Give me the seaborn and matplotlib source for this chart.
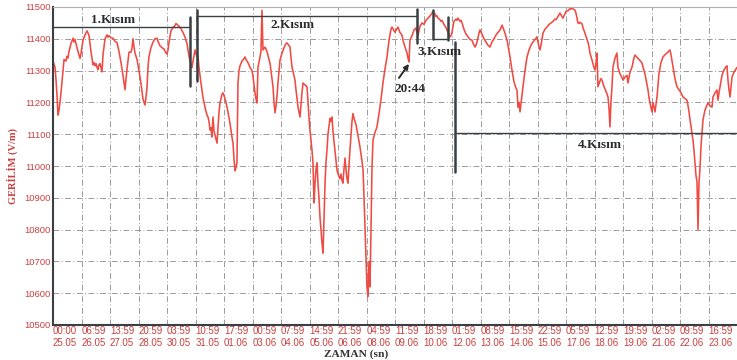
import matplotlib
matplotlib.use("Agg")
import matplotlib.pyplot as plt
import seaborn as sns
import pandas as pd

# Elapsed time since 25.05 00:00 (hours) and the measured field (V/m)
saat = [
    0, 2.2, 3.3, 4.4, 5.4, 6.5, 7.6, 8.7, 9.8, 10.9, 12.0, 14.1, 15.2, 16.3, 17.4, 19.6, 21.8, 22.8, 23.9, 26.1,
    28.3, 29.4, 30.5, 32.6, 34.8, 37.0, 38.1, 39.2, 41.3, 43.5, 44.6, 45.7, 46.8, 47.9, 48.9, 50.0, 51.1, 53.3,
    54.4, 56.6, 58.7, 59.8, 60.9, 63.1, 65.3, 67.4, 69.6, 71.8, 74.0, 76.1, 78.3, 80.5, 82.7, 84.8, 85.9, 87.0,
    88.1, 89.2, 91.4, 93.5, 95.7, 97.9, 100.1, 101.1, 102.2, 103.3, 104.4, 106.6, 108.8, 110.9, 113.1, 114.2,
    116.4, 118.5, 120.7, 123.0, 124.0, 125.1, 126.2, 128.3, 130.5, 132.7, 133.8, 134.9, 137.0, 139.2, 141.4,
    143.6, 145.8, 147.9, 150.1, 151.2, 152.3, 154.5, 155.5, 157.7, 158.8, 161.0, 163.2, 165.3, 167.5, 168.6,
    169.7, 170.8, 171.9, 172.9, 174.0, 175.1, 177.3, 178.4, 179.5, 180.6, 181.6, 183.8, 184.9, 186.0, 188.2,
    190.3, 192.5, 194.7, 195.8, 196.9, 198.0, 199.0, 200.1, 201.2, 202.3, 203.4, 205.6, 207.8, 208.8, 209.9,
    212.1, 214.3, 216.5, 217.6, 218.6, 219.7, 220.8, 221.9, 223.0, 225.2, 226.2, 227.3, 228.4, 230.6, 232.8,
    234.9, 236.0, 237.1, 239.3, 240.4, 241.5, 242.6, 243.6, 244.7, 246.9, 249.1, 251.3, 253.4, 254.5, 255.6,
    257.8, 258.9, 260.0, 262.1, 263.2, 264.3, 266.5, 267.6, 268.7, 269.7, 270.8, 271.9, 274.1, 276.3, 277.4,
    278.5, 279.5, 280.6, 281.7, 282.8, 283.9, 285.0, 286.1, 287.2, 288.2, 289.3, 290.4, 291.5, 292.6, 293.7,
    294.8, 295.9, 296.9, 298.0, 299.1, 301.3, 302.4, 303.5, 304.5, 305.6, 307.8, 308.9, 310.0, 312.2, 313.2,
    314.3, 315.4, 316.5, 317.6, 318.7, 319.8, 320.9, 321.9, 323.0, 325.2, 326.3, 327.4, 329.6, 331.7, 333.9,
    336.1, 337.2, 338.3, 339.4, 340.5, 341.5, 342.6, 343.7, 344.8, 345.9, 347.0, 348.1, 350.2, 352.4, 354.6,
    356.8, 358.9, 361.1, 363.3, 365.5, 367.6, 368.7, 370.9, 372.0, 374.2, 375.2, 377.4, 379.6, 380.7, 382.9,
    385.1, 386.1, 387.2, 388.3, 390.5, 392.7, 394.8, 395.9, 397.0, 399.2, 401.4, 403.5, 405.7, 407.9, 410.1,
    412.2, 413.3, 415.5, 416.6, 417.7, 418.8, 420.9, 422.0, 423.1, 425.3, 427.5, 429.6, 431.8, 432.9, 434.0,
    435.1, 436.2, 438.3, 439.4, 440.5, 442.7, 443.8, 444.9, 447.0, 449.2, 451.4, 453.6, 455.7, 456.8, 459.0,
    460.1, 461.2, 463.4, 464.4, 466.6, 468.8, 471.0, 473.1, 475.3, 477.5, 479.7, 481.9, 484.0, 486.2, 487.3,
    488.4, 489.5, 491.6, 493.8, 494.9, 497.1, 499.3, 501.4, 503.6, 504.7, 505.8, 506.9, 508.0, 509.0, 510.1,
    511.2, 513.4, 515.6, 517.8, 519.9, 522.1, 524.3, 526.5, 527.5, 528.6, 529.7, 530.8, 531.9, 533.0, 535.1,
    537.3, 539.5, 541.7, 543.9, 546.0, 547.1, 548.2, 550.4, 551.5, 552.6, 554.7, 555.8, 558.0, 560.2, 561.3,
    562.3, 563.4, 564.5, 566.7, 567.8, 568.9, 570.0, 571.0, 572.1, 573.2, 575.4, 576.5, 578.6, 580.8, 581.9,
    583.0, 584.1, 586.3, 588.4, 589.5, 590.6, 591.7, 592.8, 595.0, 596.1, 597.1, 599.3, 601.5, 603.7, 604.8,
    605.8, 606.9, 608.0, 609.1, 611.3, 613.4, 614.5, 616.7, 618.9, 620.0, 622.2, 624.3, 625.4, 627.6, 629.8,
    631.9, 633.0, 635.2, 637.4, 639.6, 640.6, 642.8, 643.9, 646.1, 647.2, 648.3, 649.4, 650.4, 651.5, 652.6,
    653.7, 654.8, 655.9, 657.0, 659.1, 661.3, 663.5, 665.7, 667.8, 670.0, 671.1, 672.2, 674.4, 676.5, 678.7,
    680.9, 683.1, 685.3, 687.4, 689.6, 690.7, 691.8, 692.9, 694.0, 695.1, 696.1, 697.2, 698.3, 699.4, 700.5,
    701.6, 702.7, 703.7, 704.8, 705.9, 707.0, 709.2, 711.4, 712.4, 714.6, 716.8, 717.9, 720.1, 722.2, 723.3,
    724.4, 725.5, 727.7, 729.8, 732.0, 733.1, 734.2, 735.3, 736.4, 737.5, 738.6, 740.7, 742.9, 744.0,
]
gerilim = [
    11330, 11310, 11270, 11220, 11160, 11175, 11200, 11230, 11265, 11300, 11335, 11330, 11345, 11340, 11360, 11385, 11402, 11390, 11398, 11372,
    11350, 11338, 11355, 11395, 11412, 11425, 11418, 11410, 11360, 11318, 11325, 11315, 11322, 11310, 11303, 11318, 11322, 11296,
    11350, 11400, 11412, 11405, 11410, 11403, 11402, 11392, 11388, 11360, 11325, 11285, 11240, 11305, 11358, 11358, 11370, 11400,
    11375, 11355, 11335, 11300, 11260, 11210, 11192, 11215, 11245, 11310, 11345, 11372, 11390, 11400, 11402, 11392,
    11378, 11372, 11368, 11355, 11352, 11365, 11390, 11425, 11435, 11442, 11448, 11445, 11440, 11432, 11420,
    11405, 11385, 11345, 11318, 11310, 11330, 11365, 11352, 11343, 11310, 11260, 11215, 11185, 11160, 11154,
    11140, 11113, 11120, 11091, 11154, 11110, 11085, 11072, 11123, 11170, 11198, 11225, 11230, 11222, 11200,
    11170, 11135, 11090, 11072, 11020, 10985, 10995, 11010, 11261, 11300, 11315, 11330, 11338, 11343, 11335,
    11325, 11310, 11300, 11280, 11255, 11230, 11210, 11198, 11311, 11343, 11360, 11490, 11365, 11374, 11360,
    11335, 11324, 11300, 11249, 11200, 11167, 11190, 11217, 11261, 11333, 11355, 11372, 11385, 11387, 11383,
    11374, 11340, 11311, 11285, 11270, 11240, 11185, 11170, 11154, 11190, 11230, 11261, 11255, 11249, 11198,
    11150, 11113, 11080, 11050, 11010, 10884, 10946, 10990, 11010, 10946, 10900, 10840, 10800, 10758, 10726,
    10840, 10946, 11010, 11050, 11100, 11150, 11140, 11154, 11110, 11080, 11020, 10987, 10975, 10960, 10975,
    10955, 10946, 10990, 11025, 10990, 10960, 10946, 11000, 11050, 11140, 11165, 11150, 11130, 11095, 11060,
    11015, 10990, 10900, 10800, 10700, 10620, 10590, 10700, 10620, 10800, 11000, 11082, 11105, 11123, 11165,
    11210, 11261, 11305, 11343, 11395, 11430, 11437, 11425, 11421, 11432, 11437, 11420, 11412, 11395, 11374,
    11355, 11340, 11327, 11396, 11410, 11428, 11434, 11420, 11410, 11440, 11450, 11445, 11458, 11465, 11472,
    11480, 11485, 11478, 11470, 11472, 11465, 11460, 11455, 11458, 11445, 11435, 11420, 11406, 11410, 11420,
    11440, 11455, 11462, 11458, 11465, 11455, 11458, 11450, 11430, 11415, 11406, 11398, 11396, 11387, 11374,
    11380, 11390, 11418, 11428, 11415, 11400, 11390, 11380, 11374, 11390, 11400, 11412, 11420, 11428, 11435,
    11443, 11435, 11418, 11396, 11380, 11343, 11300, 11265, 11245, 11239, 11185, 11200, 11170, 11195, 11220,
    11249, 11300, 11343, 11365, 11380, 11390, 11398, 11406, 11390, 11375, 11365, 11380, 11400, 11418, 11430,
    11437, 11445, 11450, 11455, 11462, 11460, 11465, 11476, 11481, 11475, 11465, 11472, 11486, 11488, 11492,
    11495, 11493, 11497, 11492, 11490, 11480, 11465, 11450, 11448, 11452, 11447, 11435, 11418, 11398, 11390,
    11375, 11355, 11333, 11310, 11302, 11320, 11355, 11249, 11268, 11275, 11270, 11250, 11235, 11217, 11180,
    11123, 11200, 11249, 11311, 11340, 11355, 11311, 11290, 11278, 11270, 11280, 11285, 11261, 11295, 11311,
    11340, 11349, 11342, 11335, 11328, 11324, 11300, 11290, 11255, 11239, 11215, 11198, 11185, 11170, 11198,
    11185, 11170, 11195, 11217, 11290, 11325, 11343, 11350, 11355, 11362, 11365, 11350, 11311, 11275, 11249,
    11240, 11230, 11217, 11212, 11207, 11190, 11170, 11145, 11125, 11100, 11082, 11050, 11010, 10970, 10950,
    10800, 10950, 10990, 11060, 11104, 11145, 11176, 11192, 11198, 11190, 11185, 11217, 11230, 11239, 11207,
    11230, 11249, 11285, 11302, 11312, 11315, 11270, 11240, 11217, 11250, 11280, 11295, 11305, 11310,
]

# Tick labels every 31 hours: clock time on the first line, date on the second
saat_etiket = ["00:00", "06:59", "13:59", "20:59", "03:59", "10:59", "17:59", "00:59",
               "07:59", "14:59", "21:59", "04:59", "11:59", "18:59", "01:59", "08:59",
               "15:59", "22:59", "05:59", "12:59", "19:59", "02:59", "09:59", "16:59"]
tarih_etiket = ["25.05", "26.05", "27.05", "28.05", "30.05", "31.05", "01.06", "03.06",
                "04.06", "05.06", "06.06", "08.06", "09.06", "10.06", "12.06", "13.06",
                "14.06", "15.06", "17.06", "18.06", "19.06", "21.06", "22.06", "23.06"]
gerilim_ticks = [10500, 10600, 10700, 10800, 10900, 11000, 11100, 11200, 11300, 11400, 11500]

df = pd.DataFrame({"saat": saat, "gerilim": gerilim})

sns.set_style("white")
plt.rcParams["font.family"] = ["Liberation Sans", "DejaVu Sans"]

LABEL_RED = "#c94040"
LINE_RED = "#ef4b43"
DARK = "#3a3f44"
INK = "#2b2b2b"
SERIF = ["Liberation Serif", "DejaVu Serif"]

fig = plt.figure(figsize=(7.37, 3.60), dpi=100)
ax = fig.add_axes([53 / 737, 35 / 360, 684 / 737, 318 / 360])

sns.lineplot(data=df, x="saat", y="gerilim", ax=ax, color=LINE_RED,
             linewidth=1.15, estimator=None, sort=False)

ax.set_xlim(0, 744)
ax.set_ylim(10500, 11500)

xt = [i * 31 for i in range(len(saat_etiket))]
ax.set_xticks(xt)
ax.set_xticklabels([f"{a}\n{b}" for a, b in zip(saat_etiket, tarih_etiket)],
                   ha="left", fontsize=7, color=LABEL_RED, linespacing=1.15)
ax.set_yticks(gerilim_ticks)
ax.set_yticklabels([str(v) for v in gerilim_ticks], fontsize=6.8, color=LABEL_RED)
ax.tick_params(axis="y", length=0, pad=1.5)
ax.tick_params(axis="x", length=0, pad=1.0)

ax.grid(True, color="#9a9a9a", linewidth=0.7, linestyle=(0, (6, 2.5, 1, 2.5)))

for side in ("left", "bottom"):
    ax.spines[side].set_color(DARK)
    ax.spines[side].set_linewidth(1.5)
ax.spines["top"].set_color("#b0b0b0")
ax.spines["top"].set_linewidth(0.8)
ax.spines["right"].set_visible(False)

ax.set_xlabel("")
fig.text(356 / 737, 1 - 354.5 / 360, "ZAMAN (sn)", ha="center", va="center",
         fontsize=8.2, fontweight="bold", color="#333333", family=SERIF)
ax.set_ylabel("GERİLİM (V/m)", fontsize=7.5, fontweight="bold", color=LABEL_RED,
              family=SERIF, labelpad=5)

# Section brackets
seg = dict(color=DARK, linewidth=1.0, zorder=4)
bar = dict(color=DARK, linewidth=1.8, zorder=4)
ax.plot([0, 149], [11437, 11437], **seg)
ax.plot([148.5, 148.5], [11468, 11252], **bar)
ax.plot([156.6, 156.6], [11490, 11267], **bar)
ax.plot([156.6, 395.6], [11472, 11472], **seg)
ax.plot([395.6, 395.6], [11494, 11387], **bar)
ax.plot([413.3, 413.3], [11490, 11400], **bar)
ax.plot([413.3, 429.3], [11400, 11400], **seg)
ax.plot([429.3, 429.3], [11468, 11396], **bar)
ax.plot([437.3, 437.3], [11390, 10981], **bar)
ax.plot([437.3, 744], [11105, 11105], **seg)

txt = dict(fontsize=9.5, fontweight="bold", color=INK, family=SERIF, zorder=5)
ax.text(65.3, 11459, "1.Kısım", ha="center", va="center", **txt)
ax.text(261, 11443, "2.Kısım", ha="center", va="center", **txt)
ax.text(396, 11358, "3.Kısım", ha="left", va="center", **txt)
ax.text(595, 11066, "4.Kısım", ha="center", va="center", **txt)

# Time of the local minimum inside the second section
ax.text(388.3, 11242, "20:44", ha="center", va="center", **txt)
ax.annotate("", xy=(387.2, 11321), xytext=(376.3, 11277),
            arrowprops=dict(arrowstyle="-|>", color=INK, lw=1.4,
                            mutation_scale=7, shrinkA=0, shrinkB=0),
            zorder=5)

fig.savefig("out.png", dpi=100)
